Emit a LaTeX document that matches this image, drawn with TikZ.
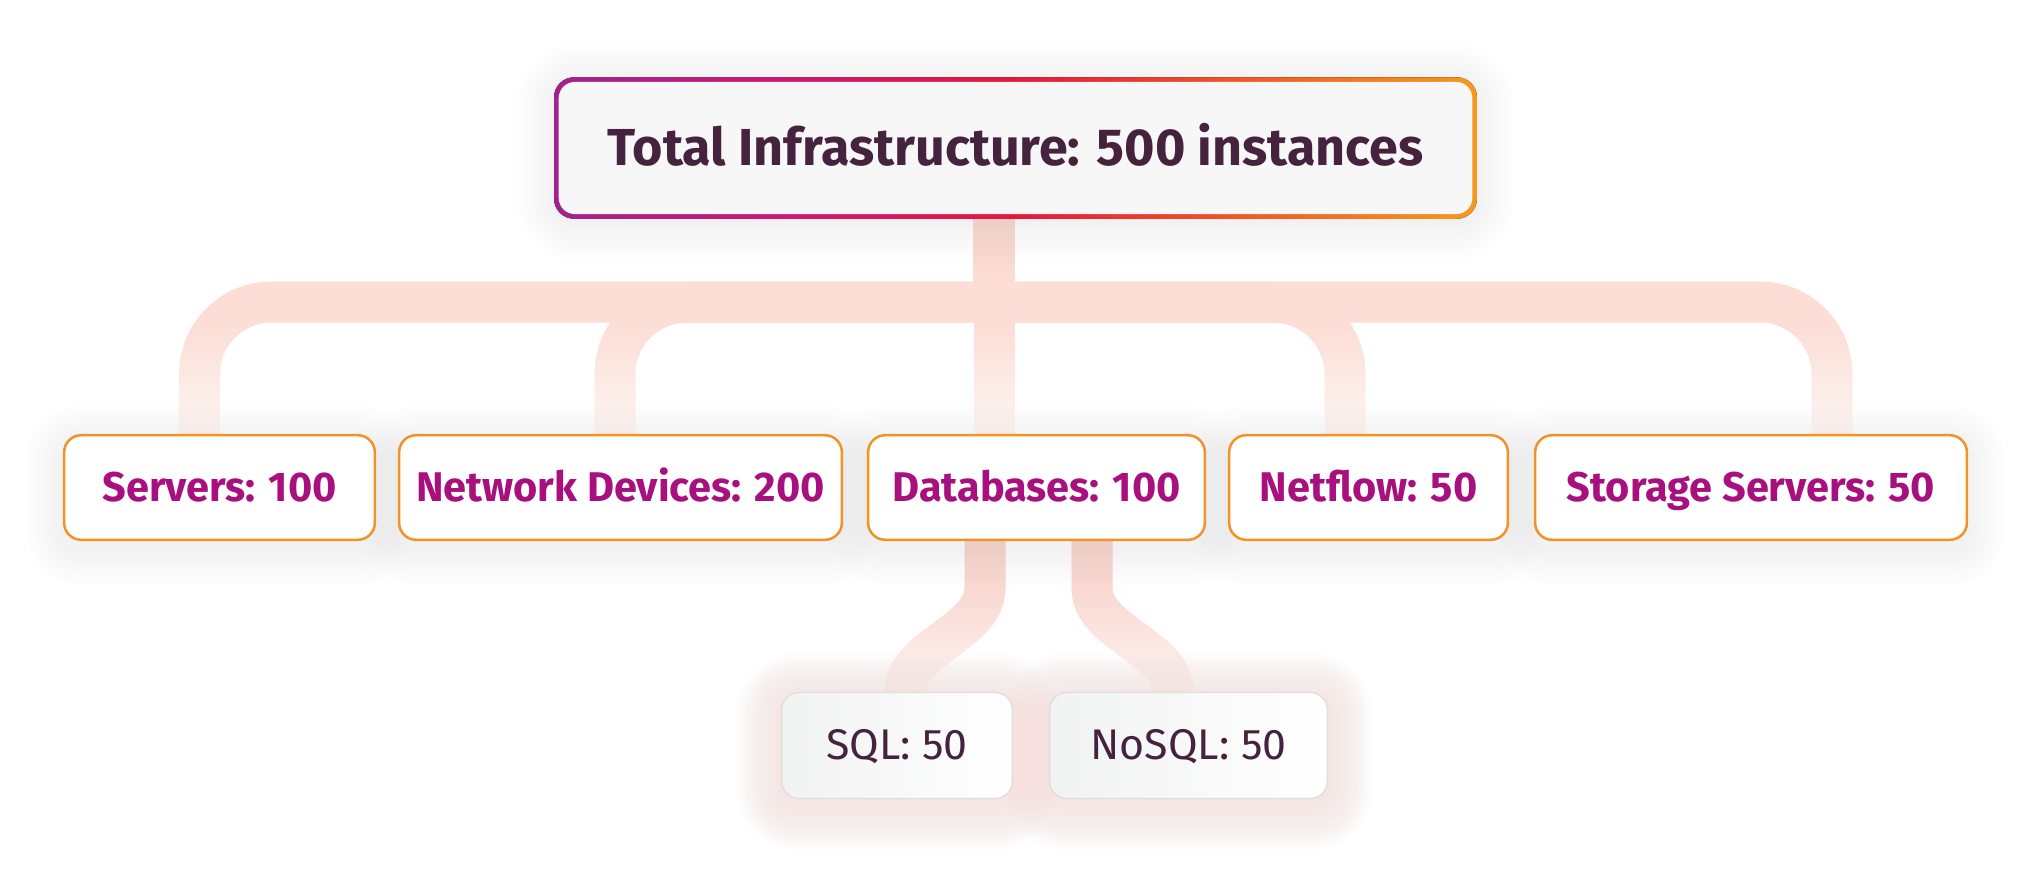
\documentclass[tikz,border=0pt]{standalone}
\usepackage{fontspec}
\setmainfont{Fira Sans}
\usetikzlibrary{calc,fadings}
\definecolor{plum}{HTML}{45233F}
\definecolor{mag}{HTML}{A8107F}
\definecolor{orng}{HTML}{F29227}
\definecolor{conn}{HTML}{FCDED6}
\definecolor{connD}{HTML}{F9CEC5}
\definecolor{topfill}{HTML}{F7F7F7}
\definecolor{leafborder}{HTML}{E2DEDE}
\definecolor{leafgrey}{HTML}{F1F2F2}
\definecolor{glowpink}{HTML}{F5B2AE}
\definecolor{shadowgrey}{HTML}{D4D4DA}
\definecolor{g1}{HTML}{A1228E}
\definecolor{g2}{HTML}{CE1874}
\definecolor{g3}{HTML}{E8163D}
\definecolor{g4}{HTML}{F05A24}
\definecolor{g5}{HTML}{F7991C}
\pgfdeclarehorizontalshading{topgrad}{100bp}{color(0bp)=(g1); color(25bp)=(g1); color(37.5bp)=(g2); color(50bp)=(g3); color(62.5bp)=(g4); color(75bp)=(g5); color(100bp)=(g5)}
\tikzfading[name=wfade, top color=transparent!100, bottom color=transparent!25]
\tikzfading[name=wfadeB, top color=transparent!100, bottom color=transparent!20]
\pgfdeclarelayer{connlayer}
\pgfdeclarelayer{fadelayer}
\pgfdeclarelayer{glowlayer}
\pgfsetlayers{connlayer,fadelayer,glowlayer,main}
% #1 node, #2 colour, #3 steps, #4 step px, #5 opacity per step, #6 y shift px
\newcommand{\glowbox}[6]{%
  \foreach \k in {1,...,#3}{%
    \pgfmathsetmacro\rr{0.17+\k*#4*0.01}%
    \fill[#2, opacity=#5, rounded corners=\rr cm]
      ($(#1.north west)+(-\k*#4,-\k*#4+#6)$) rectangle ($(#1.south east)+(\k*#4,\k*#4+#6)$);
  }}
\tikzset{
  topbox/.style={fill=topfill, rounded corners=0.16cm, minimum width=9.13cm, minimum height=1.32cm,
    inner sep=0pt, text height=0.34cm, text depth=0pt, font=\fontsize{14.8}{17}\selectfont\bfseries, text=plum},
  lvbox/.style={draw=orng, line width=0.025cm, fill=white, rounded corners=0.17cm, minimum height=1.045cm,
    inner sep=0pt, text height=0.28cm, text depth=0pt, font=\fontsize{11.8}{14}\selectfont\bfseries, text=mag},
  leafbox/.style={draw=leafborder, line width=0.015cm, left color=leafgrey, right color=white,
    rounded corners=0.17cm, minimum height=1.06cm, inner sep=0pt, text height=0.28cm, text depth=0pt,
    font=\fontsize{12.2}{14}\selectfont, text=plum},
  connline/.style={draw=conn, line width=0.41cm},
}
\begin{document}
\begin{tikzpicture}[x=0.01cm, y=-0.01cm]
\useasboundingbox (0,0) rectangle (2031,878);

% nodes
\node[topbox] (top) at (1015.5,148) {Total Infrastructure: 500 instances};
\node[lvbox, minimum width=3.105cm] (srv) at (219.5,487.5) {Servers: 100};
\node[lvbox, minimum width=4.425cm] (net) at (620.5,487.5) {Network Devices: 200};
\node[lvbox, minimum width=3.365cm] (db) at (1036.5,487.5) {Databases: 100};
\node[lvbox, minimum width=2.785cm] (nf) at (1368.5,487.5) {Netflow: 50};
\node[lvbox, minimum width=4.315cm] (sto) at (1751,487.5) {Storage Servers: 50};
\node[leafbox, minimum width=2.305cm] (sql) at (897,745.5) {SQL: 50};
\node[leafbox, minimum width=2.775cm] (nosql) at (1188.5,745.5) {NoSQL: 50};

\coordinate (j) at (994,302);

\begin{pgfonlayer}{connlayer}
  \fill[white] (0,0) rectangle (2031,878);
  % stem
  \draw[connline] (top.south -| j) -- (db.north -| j);
  \fill[top color=connD, bottom color=conn] ($(top.south -| j)+(-20.5,0)$) rectangle ($(j)+(20.5,-20)$);
  % branches
  \draw[connline, rounded corners=0.72cm] (j) -| ($(srv.north)+(-20,5)$);
  \draw[connline, rounded corners=0.72cm] (j) -| ($(net.north)+(-5.5,5)$);
  \draw[connline, rounded corners=0.72cm] (j) -| ($(nf.north)+(-23.5,5)$);
  \draw[connline, rounded corners=0.72cm] (j) -| ($(sto.north)+(81,5)$);
  % database children
  \draw[connline, draw=connD] ($(db.south)+(-51.5,-5)$) -- ++(0,52)
     .. controls ++(0,45) and ($(sql.north)+(8,-45)$) .. ($(sql.north)+(8,0)$) -- ++(0,10);
  \draw[connline, draw=connD] ($(db.south)+(55.5,-5)$) -- ++(0,52)
     .. controls ++(0,45) and ($(nosql.north)+(-15.5,-45)$) .. ($(nosql.north)+(-15.5,0)$) -- ++(0,10);
\end{pgfonlayer}

\begin{pgfonlayer}{fadelayer}
  \fill[white, path fading=wfade] (0,324) rectangle (2031,436);
  \fill[white, path fading=wfadeB] (0,550) rectangle (2031,694);
\end{pgfonlayer}

\begin{pgfonlayer}{glowlayer}
  \glowbox{top}{shadowgrey}{14}{3}{0.02}{4}
  \glowbox{srv}{shadowgrey}{12}{3}{0.022}{8}
  \glowbox{net}{shadowgrey}{12}{3}{0.022}{8}
  \glowbox{db}{shadowgrey}{12}{3}{0.022}{8}
  \glowbox{nf}{shadowgrey}{12}{3}{0.022}{8}
  \glowbox{sto}{shadowgrey}{12}{3}{0.022}{8}
  \glowbox{sql}{glowpink}{18}{2.5}{0.017}{6}
  \glowbox{nosql}{glowpink}{18}{2.5}{0.017}{6}
  \fill[shading=topgrad, rounded corners=0.2cm] ($(top.north west)+(-4,-4)$) rectangle ($(top.south east)+(4,4)$);
\end{pgfonlayer}
\end{tikzpicture}
\end{document}
